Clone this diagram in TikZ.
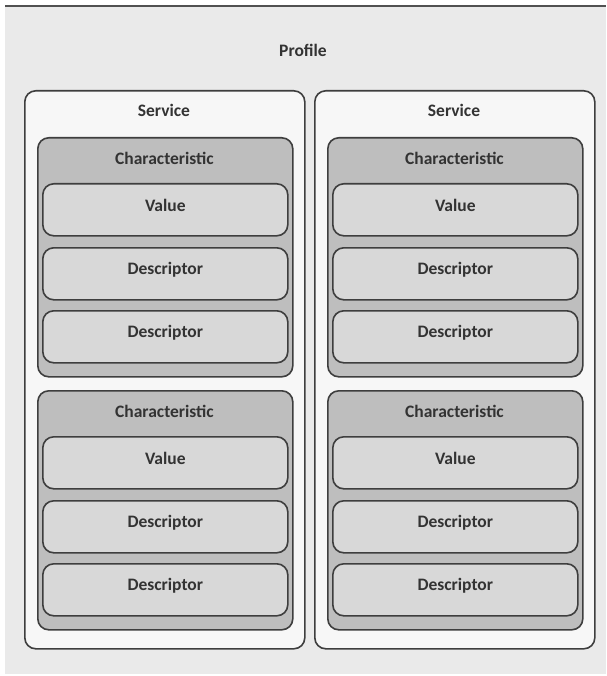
\documentclass[tikz,border=0pt]{standalone}
\usepackage{fontspec}
\setmainfont{Carlito}
\definecolor{bgc}{HTML}{EAEAEA}
\definecolor{svc}{HTML}{F7F7F7}
\definecolor{chc}{HTML}{BEBEBE}
\definecolor{inc}{HTML}{D8D8D8}
\definecolor{edge}{HTML}{3E3E3E}
\begin{document}
\begin{tikzpicture}[x=1pt,y=-1pt,
  box/.style={draw=edge,line width=1.6pt,rounded corners=11pt,inner sep=0pt,anchor=north west},
  servicebox/.style={box,fill=svc,minimum width=280pt,minimum height=558pt},
  charbox/.style={box,fill=chc,minimum width=255pt,minimum height=239pt},
  itembox/.style={box,fill=inc,minimum width=245pt,minimum height=52pt},
  lbl/.style={font=\fontsize{17.5}{19}\selectfont\bfseries,text=black!80,anchor=center,inner sep=0pt}]
\useasboundingbox (0,0) rectangle (606,676);
\fill[bgc] (5,6) rectangle (606,674);
\draw[edge!90,line width=1.8pt] (5,6) -- (606,6);
\node[lbl] (profile) at (303,50) {Profile};
\foreach \s/\sx in {L/24,R/314}{
  \node[servicebox] (svc\s) at (\sx,90) {};
  \node[lbl] (svct\s) at (\sx+140,110) {Service};
  \foreach \c/\cy in {1/137,2/390}{
    \pgfmathsetmacro{\cx}{\sx+13}
    \node[charbox] (ch\s\c) at (\cx,\cy) {};
    \node[lbl] (cht\s\c) at (\cx+127.5,\cy+21) {Characteristic};
    \pgfmathsetmacro{\ix}{\cx+5}
    \pgfmathsetmacro{\ya}{\cy+46}
    \pgfmathsetmacro{\yb}{\cy+110}
    \pgfmathsetmacro{\yc}{\cy+173}
    \node[itembox] (v\s\c) at (\ix,\ya) {};
    \node[lbl] at ([yshift=4pt]v\s\c.center) {Value};
    \node[itembox] (da\s\c) at (\ix,\yb) {};
    \node[lbl] at ([yshift=4pt]da\s\c.center) {Descriptor};
    \node[itembox] (db\s\c) at (\ix,\yc) {};
    \node[lbl] at ([yshift=4pt]db\s\c.center) {Descriptor};
  }
}
\end{tikzpicture}
\end{document}
